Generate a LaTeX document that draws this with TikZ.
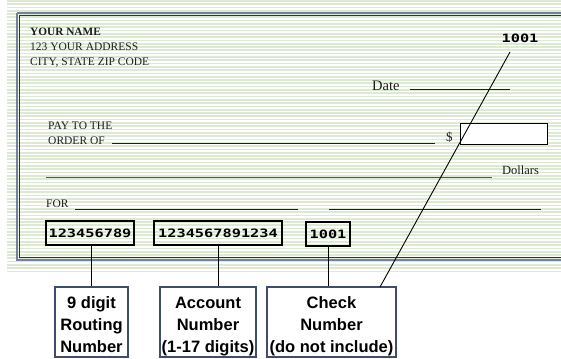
\documentclass[tikz,border=0pt]{standalone}
\usepackage{fontspec}
\setmainfont{Liberation Serif}
\newfontfamily\callfont{Liberation Sans}
\newfontfamily\micrfont{DejaVu Sans Mono}
\definecolor{stripe}{HTML}{DCEAD2}
\definecolor{ink}{HTML}{1C1C1C}
\definecolor{bordlight}{HTML}{7282A2}
\definecolor{borddark}{HTML}{22345F}
\definecolor{callbord}{HTML}{3E4C6E}
\newcommand{\micrtext}[1]{\scalebox{1.33}[1]{\micrfont\bfseries\fontsize{11.5}{12}\selectfont #1}}
\begin{document}
\begin{tikzpicture}[x=1pt,y=-1pt,
  lbl/.style={inner sep=0pt, anchor=base west, text=ink, font=\fontsize{11.5}{13}\selectfont},
  rulel/.style={draw=ink, line width=0.9pt},
  micrbox/.style={draw=black, line width=1.8pt, inner sep=0pt, minimum height=24pt},
  callbox/.style={draw=callbord, line width=1.3pt, fill=white, minimum height=70pt, inner sep=0pt},
  calltext/.style={anchor=north, inner sep=0pt, align=center, text=black,
    font=\callfont\bfseries\fontsize{16.5}{22}\selectfont},
  conn/.style={draw=black, line width=0.9pt}]
\useasboundingbox (0,0) rectangle (561,358);
% striped paper
\foreach \i in {0,...,82}{
  \fill[stripe] (7,\i*3.3) rectangle (561,\i*3.3+1.7);
}
% double border
\draw[bordlight, line width=1.3pt] (17,13) -- (565,13) (17,13) -- (17,260) -- (565,260);
\draw[borddark, line width=1.3pt] (19.5,15.3) -- (565,15.3) (19.5,15.3) -- (19.5,257.7) -- (565,257.7);
% header
\node[lbl, font=\bfseries\fontsize{11.3}{13}\selectfont] (name) at (30,36) {YOUR NAME};
\node[lbl] (addr) at (30,50.5) {123 YOUR ADDRESS};
\node[lbl] (city) at (30,65.5) {CITY, STATE ZIP CODE};
\node[inner sep=0pt] (num) at (520,38) {\micrtext{1001}};
% date
\node[lbl, font=\fontsize{14.5}{16}\selectfont] (date) at (372,91) {Date};
\draw[rulel] (410,89) -- (510,89);
% pay to
\node[lbl] (pay) at (48,129.5) {PAY TO THE};
\node[lbl] (order) at (48,144.5) {ORDER OF};
\draw[rulel] (112,143.3) -- (435,143.3);
\node[lbl, font=\fontsize{13}{15}\selectfont] (dsign) at (446,141.5) {\$};
\node[draw=black, line width=0.9pt, fill=white, inner sep=0pt, minimum width=87pt, minimum height=21pt] (amount) at (503.5,133.5) {};
% dollars
\draw[draw=ink!75, line width=1.4pt] (46,177.3) -- (492,177.3);
\node[lbl, font=\fontsize{12.5}{14}\selectfont] (dollars) at (502,174.3) {Dollars};
% memo
\node[lbl] (for) at (46,207) {FOR};
\draw[rulel] (75,209.3) -- (298,209.3);
\draw[rulel] (329,209.3) -- (541,209.3);
% MICR line
\node[micrbox, minimum width=88pt] (m1) at (90,233) {\micrtext{123456789}};
\node[micrbox, minimum width=128pt] (m2) at (218,233) {\micrtext{1234567891234}};
\node[micrbox, minimum width=44pt] (m3) at (328,234) {\micrtext{1001}};
% callouts
\node[callbox, minimum width=73pt] (c1) at (91.5,322) {};
\node[callbox, minimum width=96pt] (c2) at (208,322) {};
\node[callbox, minimum width=129pt] (c3) at (331.5,322) {};
\node[calltext] (t1) at (91.5,295.5) {\rule{0pt}{12.5pt}9 digit\\Routing\\Number};
\node[calltext] (t2) at (208,295.5) {\rule{0pt}{12.5pt}Account\\Number\\(1-17 digits)};
\node[calltext] (t3) at (331.5,295.5) {\rule{0pt}{12.5pt}Check\\Number\\(do not include)};
% connectors
\draw[conn] (c1.north) -- (c1.north |- m1.south);
\draw[conn] (m2.south) -- (m2.south |- c2.north);
\draw[conn] (m3.south) -- (m3.south |- c3.north);
\coordinate (tipA) at (510,52);
\coordinate (tipB) at (380,287);
\draw[conn] (tipA) -- (tipB);
\end{tikzpicture}
\end{document}
